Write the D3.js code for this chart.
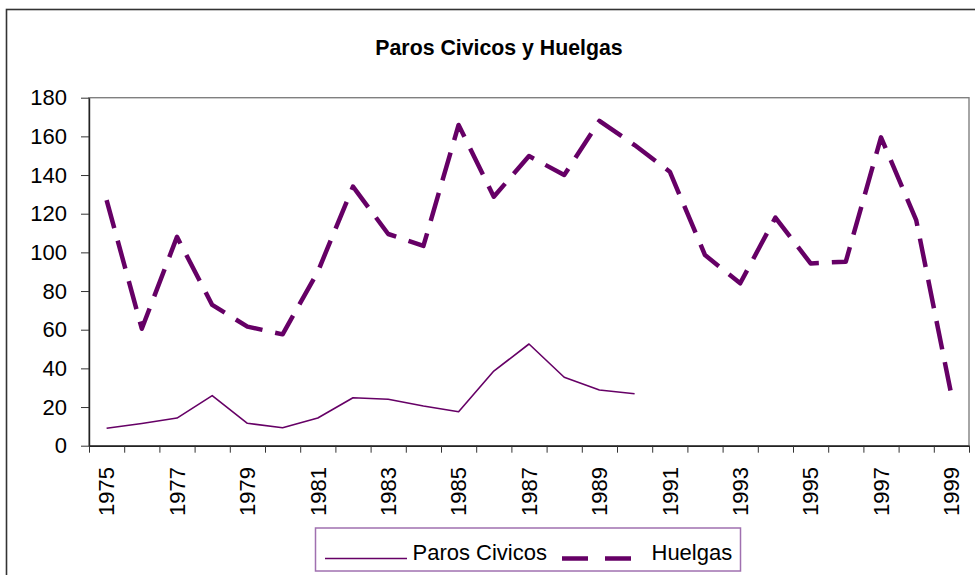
<!DOCTYPE html>
<html>
<head>
<meta charset="utf-8">
<script src="https://cdn.jsdelivr.net/npm/d3@7"></script>
<style>
  body { margin: 0; background: #fff; overflow: hidden; }
  svg { display: block; }
  text { font-family: "Liberation Sans", Arial, sans-serif; }
</style>
</head>
<body>
<div id="chart"></div>
<script>
// 1: DATA
const years = d3.range(1975, 2000);   // 1975 ... 1999 categories
const parosCivicos = [9, 11.5, 14.3, 25.9, 11.6, 9.3, 14.3, 24.8, 24, 20.5, 17.6, 38.6, 52.6, 35.4, 28.8, 26.9]; // 1975-1990
const huelgas = [127, 60.5, 108, 72.8, 61.6, 57.6, 90, 134, 109.5, 103.3, 165.9, 128.8, 149.8, 140, 168, 155.5,
                 141.7, 98.6, 84, 118, 94.3, 95.2, 159.5, 116.7, 26.2];
const yTicks = [0, 20, 40, 60, 80, 100, 120, 140, 160, 180];
const labelYears = years.filter((d, i) => i % 2 === 0);
const seriesNames = ["Paros Civicos", "Huelgas"];

// 2: GLOBALS
const W = 975, H = 575;
const plot = { left: 89, right: 969, top: 97.7, bottom: 445.7 };
const purple = "#660066";

const svg = d3.select("#chart")
    .append("svg")
    .attr("width", W)
    .attr("height", H);

// outer chart border (runs off the right / bottom of the picture)
svg.append("rect")
    .attr("x", 6.5)
    .attr("y", 9.5)
    .attr("width", 1000)
    .attr("height", 600)
    .attr("fill", "none")
    .attr("stroke", "#333")
    .attr("stroke-width", 1.6);

// 3: SCALES
const x = d3.scaleBand()
    .domain(years)
    .range([plot.left, plot.right])
    .padding(0);

const xEdge = d3.scaleLinear()
    .domain([0, years.length])
    .range([plot.left, plot.right]);

const y = d3.scaleLinear()
    .domain([0, 180])
    .range([plot.bottom, plot.top]);

// plot area border (grey top / right)
svg.append("rect")
    .attr("x", plot.left)
    .attr("y", plot.top)
    .attr("width", plot.right - plot.left)
    .attr("height", plot.bottom - plot.top)
    .attr("fill", "none")
    .attr("stroke", "#808080")
    .attr("stroke-width", 1.4);

// 4: AXES
// Y axis
const yAxis = svg.append("g")
    .attr("transform", `translate(${plot.left},0)`)
    .call(d3.axisLeft(y).tickValues(yTicks).tickSize(8).tickSizeOuter(0).tickPadding(14));
yAxis.select(".domain").attr("stroke", "#222").attr("stroke-width", 1.4);
yAxis.selectAll(".tick line").attr("stroke", "#333");
yAxis.selectAll("text")
    .attr("font-size", "22px")
    .attr("font-family", "Liberation Sans, Arial, sans-serif")
    .attr("fill", "#000");

// X axis: tick marks at category boundaries
const xTickAxis = svg.append("g")
    .attr("transform", `translate(0,${plot.bottom})`)
    .call(d3.axisBottom(xEdge).tickValues(d3.range(years.length + 1)).tickSize(7).tickSizeOuter(0).tickFormat(""));
xTickAxis.select(".domain").attr("stroke", "#222").attr("stroke-width", 1.4);
xTickAxis.selectAll(".tick line").attr("stroke", "#333");

// X axis labels, every second year, rotated
const xLabelAxis = svg.append("g")
    .attr("transform", `translate(0,${plot.bottom})`)
    .call(d3.axisBottom(x).tickValues(labelYears).tickSize(0));
xLabelAxis.select(".domain").remove();
xLabelAxis.selectAll("text")
    .attr("transform", "rotate(-90)")
    .attr("x", -21.3)
    .attr("y", 0)
    .attr("dy", "0.35em")
    .attr("text-anchor", "end")
    .attr("font-size", "22px")
    .attr("font-family", "Liberation Sans, Arial, sans-serif")
    .attr("fill", "#000");

// 5: LINES
const cx = d => x(d.year) + x.bandwidth() / 2;
const line = d3.line()
    .x(cx)
    .y(d => y(d.value));

const parosData = parosCivicos.map((v, i) => ({ year: years[i], value: v }));
const huelgasData = huelgas.map((v, i) => ({ year: years[i], value: v }));

svg.append("path")
    .datum(parosData)
    .attr("fill", "none")
    .attr("stroke", purple)
    .attr("stroke-width", 1.6)
    .attr("stroke-linejoin", "round")
    .attr("d", line);

svg.append("path")
    .datum(huelgasData)
    .attr("fill", "none")
    .attr("stroke", purple)
    .attr("stroke-width", 4.5)
    .attr("stroke-dasharray", "29,13")
    .attr("stroke-linejoin", "round")
    .attr("d", line);

// 6: TITLE
svg.append("text")
    .attr("x", 499)
    .attr("y", 55)
    .attr("text-anchor", "middle")
    .attr("font-size", "21.3px")
    .attr("font-weight", "bold")
    .attr("fill", "#000")
    .text("Paros Civicos y Huelgas");

// 7: LEGEND
const legend = svg.append("g").attr("class", "legend");

legend.append("rect")
    .attr("x", 315.5)
    .attr("y", 528)
    .attr("width", 425)
    .attr("height", 43)
    .attr("fill", "#fff")
    .attr("stroke", "#a070b0")
    .attr("stroke-width", 1.5);

legend.append("line")
    .attr("x1", 325).attr("x2", 407)
    .attr("y1", 558.5).attr("y2", 558.5)
    .attr("stroke", purple)
    .attr("stroke-width", 1.6);

legend.append("text")
    .attr("x", 412.5)
    .attr("y", 560)
    .attr("font-size", "22px")
    .attr("fill", "#000")
    .text(seriesNames[0]);

legend.append("line")
    .attr("x1", 562).attr("x2", 633)
    .attr("y1", 558.5).attr("y2", 558.5)
    .attr("stroke", purple)
    .attr("stroke-width", 4.5)
    .attr("stroke-dasharray", "26,17");

legend.append("text")
    .attr("x", 651.5)
    .attr("y", 560)
    .attr("font-size", "22px")
    .attr("fill", "#000")
    .text(seriesNames[1]);
</script>
</body>
</html>
